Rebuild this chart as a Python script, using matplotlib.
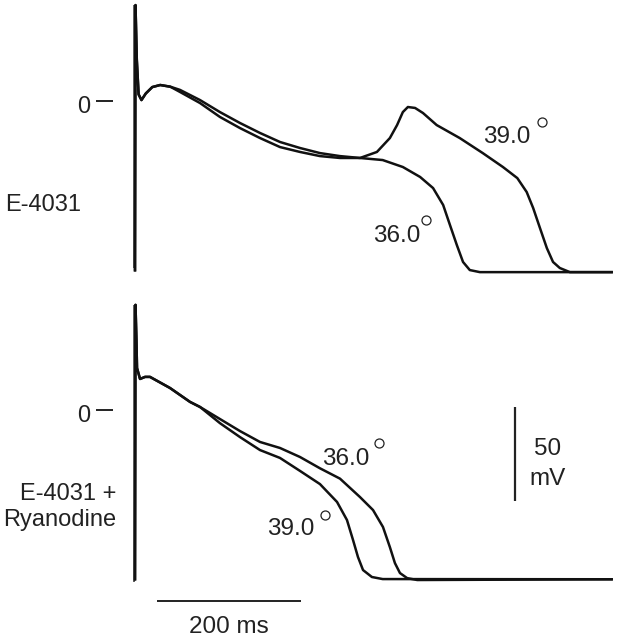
import numpy as np
import matplotlib
matplotlib.use("Agg")
import matplotlib.pyplot as plt

plt.rcParams['font.family'] = ['Liberation Sans', 'DejaVu Sans']

# --- E-4031 panel (time in ms, membrane potential in mV) ---
top_common_t = [0, 0.7, 2.5, 5, 9, 15, 24, 35, 49]
top_common_v = [-90, 51, 22, 3.5, 0.5, 4, 7.4, 8.5, 7.6]

top_36_t = [62.5, 90.3, 118, 145.8, 173.6, 201.4, 229.2, 256.9, 284.7, 312.5, 344, 372, 396,
            414, 428, 437.5, 447, 455.6, 465, 479, 662]
top_36_v = [5.9, 0.5, -5.9, -11.7, -17, -21.8, -25, -27.7, -29.3, -30.3, -31.4, -35.1, -40.4,
            -46.3, -55.3, -66, -76.6, -85.6, -89.9, -91, -91]

top_39_t = [62.5, 90.3, 118, 145.8, 173.6, 201.4, 229.2, 256.9, 284.7, 312.5, 336, 354, 364,
            372, 379, 389, 400, 419, 451, 483, 511, 531, 544, 553, 562.5, 572, 580.6, 590,
            604, 662]
top_39_v = [4.8, -1.1, -8.5, -14.4, -19.7, -24.5, -27.1, -29.3, -30.3, -30.3, -27.1, -19.7,
            -12.8, -5.9, -3.2, -3.7, -6.4, -12.8, -19.7, -27.7, -35.1, -41, -48.4, -56.9,
            -67.6, -78.2, -85.6, -88.8, -91, -91]

# --- E-4031 + Ryanodine panel ---
bot_common_t = [0, 0.7, 2, 2.8, 7, 14, 20.8, 48.6, 76.4, 90.3]
bot_common_v = [-90, 55.9, 37, 22.3, 16.5, 17.6, 17.6, 11.7, 4.3, 1.6]

bot_36_t = [118, 145.8, 173.6, 201.4, 229.2, 256.9, 284.7, 312.5, 330.6, 344.4, 354, 361,
            368, 378, 392, 662]
bot_36_v = [-4.8, -11.2, -17, -20.2, -25, -31, -36.5, -46.3, -53.2, -62.2, -72.9, -81.4,
            -86.7, -89.4, -90.4, -90]

bot_39_t = [118, 145.8, 173.6, 201.4, 229.2, 256.9, 280.6, 294.4, 302.8, 309.7, 316.7, 329,
            344, 662]
bot_39_v = [-7, -14.4, -21.3, -25.5, -32.4, -39.4, -48.9, -58.5, -69.1, -78.2, -85.1, -88.8,
            -89.9, -90]

W, H = 621, 637
fig = plt.figure(figsize=(W / 100, H / 100), dpi=100)
ax_top = fig.add_axes([0, 1 - 290 / H, 1, 290 / H])
ax_bot = fig.add_axes([0, 0, 1, 347 / H])

XLIM = (-187.5, 675)
ax_top.set_xlim(*XLIM)
ax_top.set_ylim(-100.5, 53.7)
ax_bot.set_xlim(*XLIM)
ax_bot.set_ylim(-120.7, 63.8)

tc = '#111111'
lw = 1.8
txt = '#222222'


def trace(ax, ct, cv, t, v):
    ax.plot(ct + t, cv + v, color=tc, lw=lw, solid_joinstyle='round')


for ax in (ax_top, ax_bot):
    ax.axis('off')

# top panel
ax_top.vlines(-1.4, -88.8, 51, color='#333333', lw=1.1)
trace(ax_top, top_common_t, top_common_v, top_36_t, top_36_v)
trace(ax_top, top_common_t, top_common_v, top_39_t, top_39_v)
ax_top.hlines(0, -54, -30.5, color=txt, lw=1.4)
ax_top.text(-62.5, -6.5, '0', ha='right', va='baseline', fontsize=17, color=txt)
ax_top.text(-180.6, -58.5, 'E-4031', ha='left', va='baseline', fontsize=17, color=txt)
ax_top.text(483.3, -22.3, '39.0', ha='left', va='baseline', fontsize=17.5, color=txt)
ax_top.text(330.6, -75, '36.0', ha='left', va='baseline', fontsize=17.5, color=txt)
ax_top.plot([565], [-11.2], 'o', ms=6.5, mfc='white', mec=txt, mew=0.9)
ax_top.plot([404], [-63.3], 'o', ms=6.5, mfc='white', mec=txt, mew=0.9)

# bottom panel
ax_bot.vlines(-1.4, -91.5, 55.9, color='#333333', lw=1.1)
trace(ax_bot, bot_common_t, bot_common_v, bot_36_t, bot_36_v)
trace(ax_bot, bot_common_t, bot_common_v, bot_39_t, bot_39_v)
ax_bot.hlines(0, -54, -30.5, color=txt, lw=1.4)
ax_bot.text(-62.5, -6.5, '0', ha='right', va='baseline', fontsize=17, color=txt)
ax_bot.text(-26.4, -47.9, 'E-4031 +', ha='right', va='baseline', fontsize=17, color=txt)
ax_bot.text(-26.4, -61.7, 'Ryanodine', ha='right', va='baseline', fontsize=17, color=txt)
ax_bot.text(259.7, -29.3, '36.0', ha='left', va='baseline', fontsize=17.5, color=txt)
ax_bot.text(183.3, -66.5, '39.0', ha='left', va='baseline', fontsize=17.5, color=txt)
ax_bot.plot([339], [-17.6], 'o', ms=6.5, mfc='white', mec=txt, mew=0.9)
ax_bot.plot([264], [-55.9], 'o', ms=6.5, mfc='white', mec=txt, mew=0.9)

# scale bars
ax_bot.vlines(527.8, -48.4, 1.6, color=txt, lw=1.6)
ax_bot.text(573.6, -23.9, '50', ha='center', va='baseline', fontsize=17.5, color=txt)
ax_bot.text(573.6, -39.9, 'mV', ha='center', va='baseline', fontsize=17.5, color=txt)
ax_bot.hlines(-101.4, 30.6, 230.6, color=txt, lw=1.4)
ax_bot.text(130.6, -118.6, '200 ms', ha='center', va='baseline', fontsize=17.5, color=txt)

fig.savefig('out.png', dpi=100, facecolor='white')
